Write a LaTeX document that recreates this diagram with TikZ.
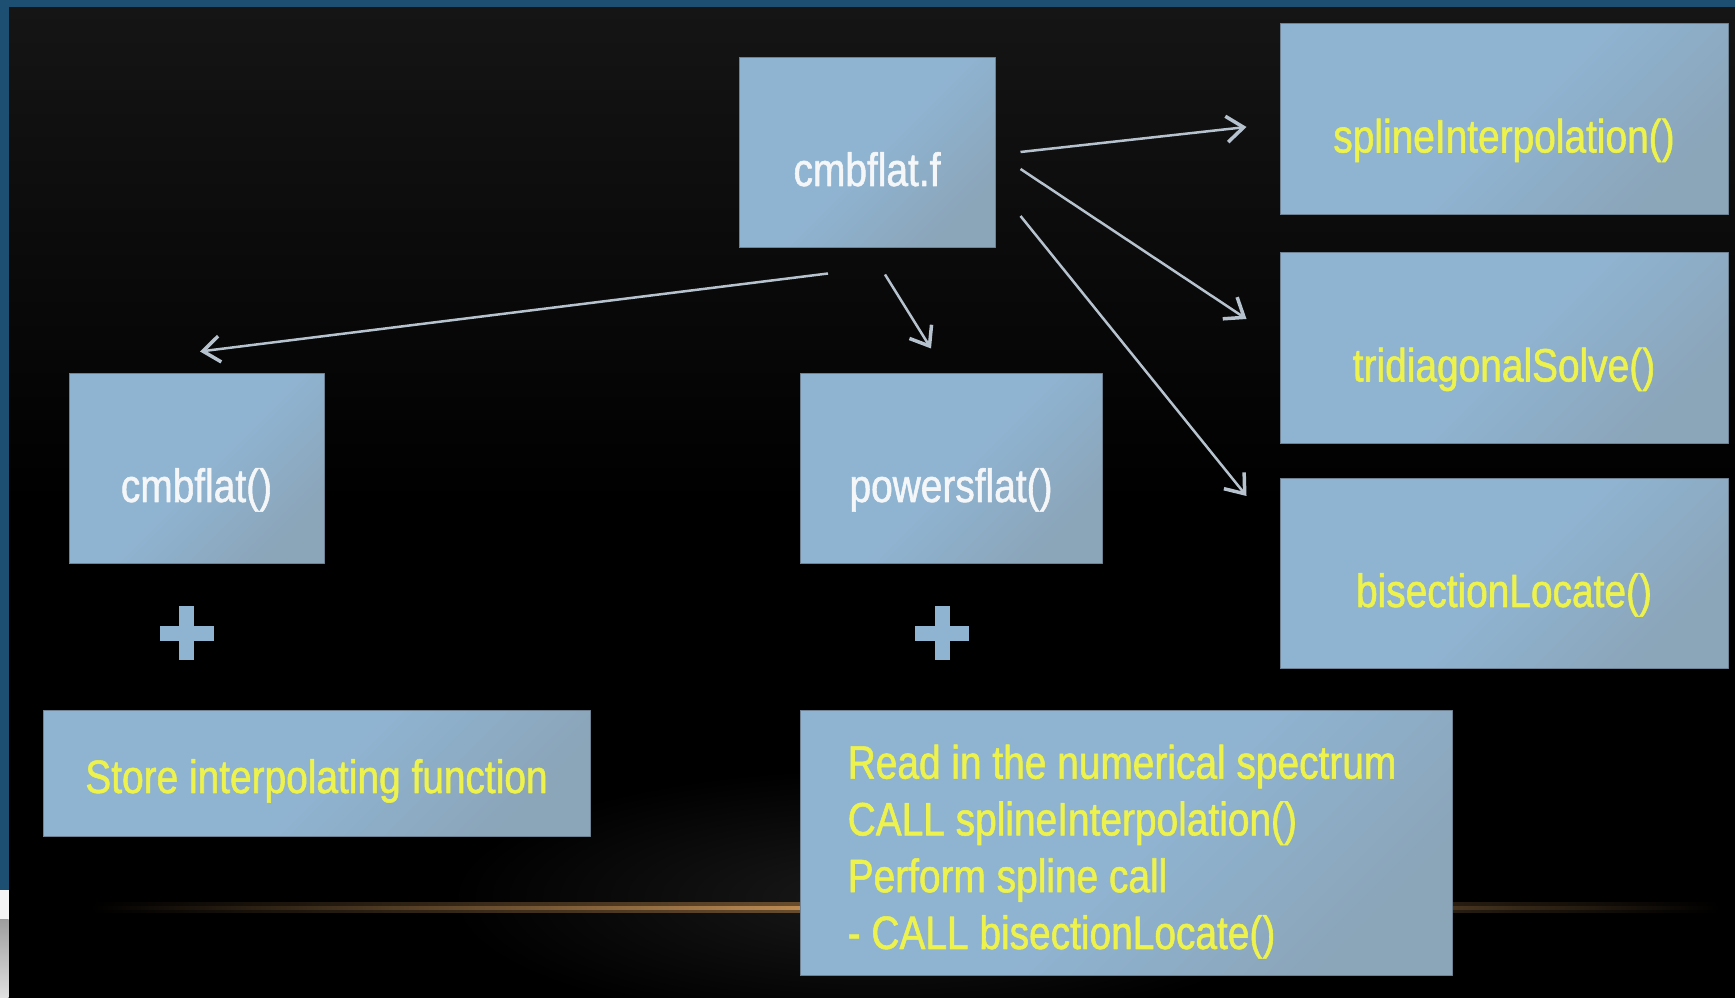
\documentclass[tikz,border=0pt]{standalone}
\usepackage{fontspec}
\setmainfont{Liberation Sans}[FakeStretch=0.83,FakeBold=1.2]
\usetikzlibrary{arrows.meta,calc}

\definecolor{boxcol}{HTML}{8FB4D2}
\definecolor{boxshade}{HTML}{8BA5B9}
\definecolor{boxline}{HTML}{6E8294}
\definecolor{callcol}{HTML}{EEF24C}
\definecolor{namecol}{HTML}{F4F6F8}
\definecolor{edgecol}{HTML}{B6C2CE}
\definecolor{framecol}{HTML}{1D4F72}
\definecolor{glowcol}{HTML}{D9A060}
\definecolor{bgtop}{HTML}{151515}

\begin{document}
\begin{tikzpicture}[>={Straight Barb[length=17bp,width=26bp,line width=3.5bp]},line join=bevel,
  box/.style={draw=boxline,line width=1bp,left color=boxcol,right color=boxshade,middle color=boxcol,
    shading angle=45,inner sep=0pt,font=\fontsize{47}{57}\selectfont},
  filebox/.style={box,text=namecol,text height=66bp,text depth=0bp},
  funcbox/.style={box,text=callcol,text height=66bp,text depth=0bp},
  callline/.style={->,draw=edgecol,line width=2.5bp},
]
\useasboundingbox (0bp,0bp) rectangle (1735bp,998bp);
%% Background
  \fill[black] (0bp,0bp) rectangle (1735bp,998bp);
  \shade[top color=bgtop,bottom color=black,middle color=black] (8.5bp,0bp) rectangle (1735bp,991bp);
  \shade[inner color=black!90!white,outer color=black] (880bp,100bp) ellipse (430bp and 130bp);
  \shade[left color=black,right color=black,middle color=glowcol!55!black] (90bp,85bp) rectangle (1720bp,95bp);
  \shade[left color=black,right color=black,middle color=glowcol] (90bp,88.6bp) rectangle (1720bp,91.4bp);
  \fill[framecol] (0bp,991bp) rectangle (1735bp,998bp);
  \fill[framecol] (0bp,108bp) rectangle (8.5bp,998bp);
  \fill[white!96!black] (0bp,78bp) rectangle (8.5bp,108bp);
  \shade[top color=black!38!white,bottom color=black!12!white] (0bp,0bp) rectangle (8.5bp,78bp);
%%
  % Node: cmbflat.f
  \node[filebox,minimum width=256bp,minimum height=190bp] (cmbf) at (867bp,845bp) {cmbflat.f};
  % Node: splineInterpolation
  \node[funcbox,minimum width=448bp,minimum height=191bp] (spline) at (1504bp,878.5bp) {splineInterpolation()};
  % Node: tridiagonalSolve
  \node[funcbox,minimum width=448bp,minimum height=191bp] (tridiag) at (1504bp,649.5bp) {tridiagonalSolve()};
  % Node: bisectionLocate
  \node[funcbox,minimum width=448bp,minimum height=190bp] (bisect) at (1504bp,424bp) {bisectionLocate()};
  % Node: cmbflat
  \node[filebox,minimum width=255bp,minimum height=190bp] (cmbfun) at (196.5bp,529bp) {cmbflat()};
  % Node: powersflat
  \node[filebox,minimum width=302bp,minimum height=190bp] (powers) at (951bp,529bp) {powersflat()};
  % Node: store
  \node[box,text=callcol,text height=38bp,text depth=0bp,minimum width=547bp,minimum height=126bp]
    (store) at (316.5bp,224bp) {Store interpolating function};
  % Node: readspec
  \node[box,text=callcol,minimum width=652bp,minimum height=265bp] (readspec) at (1126bp,154.5bp) {};
  \node[text=callcol,font=\fontsize{47}{57}\selectfont,align=left,anchor=north west,inner sep=0pt]
    (readtext) at ([xshift=48bp,yshift=-34bp]readspec.north west)
    {Read in the numerical spectrum\\CALL splineInterpolation()\\Perform spline call\\- CALL bisectionLocate()};
%%
  % Plus: cmbflat + store
  \coordinate (plusA) at ($(cmbfun.south)+(-10bp,-69bp)$);
  \fill[boxcol] ($(plusA)+(-27bp,-7.5bp)$) rectangle ($(plusA)+(27bp,7.5bp)$);
  \fill[boxcol] ($(plusA)+(-7.5bp,-27bp)$) rectangle ($(plusA)+(7.5bp,27bp)$);
  % Plus: powersflat + readspec
  \coordinate (plusB) at ($(powers.south)+(-9bp,-69bp)$);
  \fill[boxcol] ($(plusB)+(-27bp,-7.5bp)$) rectangle ($(plusB)+(27bp,7.5bp)$);
  \fill[boxcol] ($(plusB)+(-7.5bp,-27bp)$) rectangle ($(plusB)+(7.5bp,27bp)$);
%%
  % Edge: cmbf -> spline
  \draw[callline] ([xshift=25bp,yshift=1bp]cmbf.east) -- ([xshift=-33bp,yshift=-7.5bp]spline.west);
  % Edge: cmbf -> tridiag
  \draw[callline] ([xshift=25bp,yshift=-16bp]cmbf.east) -- ([xshift=-33bp,yshift=29.5bp]tridiag.west);
  % Edge: cmbf -> bisect
  \draw[callline] ([xshift=25bp,yshift=-63bp]cmbf.east) -- ([xshift=-33bp,yshift=78bp]bisect.west);
  % Edge: cmbf -> cmbfun
  \draw[callline] ([xshift=-39bp,yshift=-25bp]cmbf.south) -- ([xshift=3.5bp,yshift=22bp]cmbfun.north);
  % Edge: cmbf -> powers
  \draw[callline] ([xshift=18bp,yshift=-26bp]cmbf.south) -- ([xshift=-20bp,yshift=25bp]powers.north);
%
\end{tikzpicture}
\end{document}
